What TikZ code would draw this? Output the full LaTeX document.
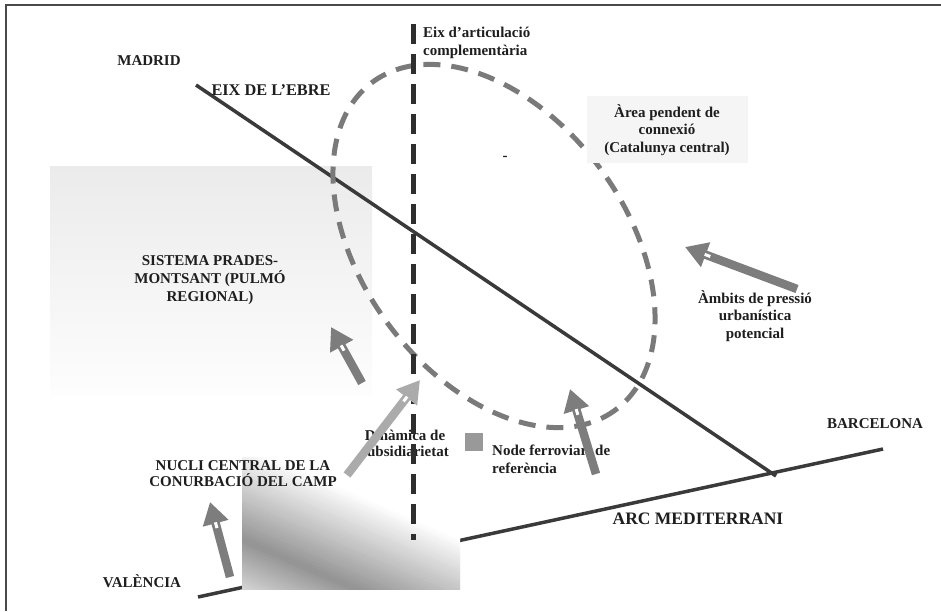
\documentclass[tikz,border=0pt]{standalone}
\usepackage{fontspec}
\setmainfont{Liberation Serif}
\usetikzlibrary{arrows.meta,calc}
\definecolor{lineC}{HTML}{3A3A3A}
\definecolor{dashC}{HTML}{2E2E2E}
\definecolor{ellC}{HTML}{7A7A7A}
\definecolor{arrC}{HTML}{7D7D7D}
\definecolor{arrL}{HTML}{ABABAB}
\definecolor{frameC}{HTML}{4A4A4A}
\definecolor{txtC}{HTML}{1E1E1E}
\definecolor{gradD}{HTML}{939393}
\definecolor{gradL}{HTML}{D2D2D2}
\definecolor{boxT}{HTML}{EBEBEB}
\definecolor{boxB}{HTML}{FDFDFD}
\definecolor{areaC}{HTML}{F5F5F5}
\definecolor{squareC}{HTML}{999999}
\begin{document}
\begin{tikzpicture}[x=1pt,y=-1pt,
  lab/.style={inner sep=0pt, text=txtC, font=\fontsize{15}{17.5}\selectfont\bfseries, align=center},
  biglab/.style={inner sep=0pt, text=txtC, font=\fontsize{16.3}{20}\selectfont\bfseries},
  axisline/.style={draw=lineC, line width=3.5pt},
  vdash/.style={draw=dashC, line width=4.5pt, dash pattern=on 20pt off 10pt},
  ring/.style={draw=ellC, line width=5pt, dash pattern=on 17pt off 11pt},
  fatarrow/.style={draw=arrC, line width=8.5pt, -{Triangle[length=22pt,width=25pt]}},
  lightarrow/.style={fatarrow, draw=arrL},
  notch/.style={draw=white, line width=3pt},
]
\useasboundingbox (0,0) rectangle (941,611);
\fill[white] (0,0) rectangle (941,611);
% frame
\draw[frameC, line width=1.6pt] (941,5) -- (6,5) -- (6,611);

% Sistema Prades-Montsant box
\shade[top color=boxT, bottom color=boxB] (50,166) rectangle (372,395);

% coordinates of axes
\coordinate (madE) at (196,85);
\coordinate (ebreEnd) at (776,476);
\coordinate (valE) at (198,597);
\coordinate (barE) at (883,449);
\coordinate (vtop) at (413.5,24);
\coordinate (vbot) at (413.5,540);

% Arc mediterrani
\draw[axisline] (valE) -- (barE);

% gradient box (nucli)
\begin{scope}
  \clip (242,457) rectangle (460,589);
  \fill[white] (242,457) rectangle (460,589);
  \begin{scope}[rotate around={-23.6:(351,523)}]
    \foreach \p in {-132,-129,...,132} {
      \pgfmathtruncatemacro\pa{max(0,min(100,(30-\p)/88*100))}
      \pgfmathtruncatemacro\pb{max(0,min(100,(-58-\p)/44*100))}
      \fill[gradL!\pb!gradD!\pa!white] (180,{523-\p-2}) rectangle (520,{523-\p+2});
    }
  \end{scope}
\end{scope}

% Eix de l'Ebre
\draw[axisline] (madE) -- (ebreEnd);

% dashed ellipse
\draw[ring, rotate around={-53.4:(494,246)}] (494,246) ellipse [x radius=204, y radius=131.5];

% Area pendent box
\fill[areaC] (587,96) rectangle (748,163);

% texts (multi-line nodes: base = baseline of last line)
\node[lab, anchor=base] (madrid) at (149,65) {MADRID};
\node[biglab, anchor=base] (ebre) at (271,95) {EIX DE L’EBRE};
\node[lab, anchor=base west, align=left] (eixart) at (423,55) {Eix d’articulació\\complementària};
\node[lab, anchor=base] (area) at (667,152) {Àrea pendent de\\connexió\\(Catalunya central)};
\node[lab, anchor=base] (dash) at (505,160) {-};
\node[lab, anchor=base, font=\fontsize{15}{18}\selectfont\bfseries] (sistema) at (210,301) {SISTEMA PRADES-\\MONTSANT (PULMÓ\\REGIONAL)};
\node[lab, anchor=base] (ambits) at (755,338) {Àmbits de pressió\\urbanística\\potencial};
\node[lab, anchor=base] (barcelona) at (875,428) {BARCELONA};
\node[lab, anchor=base, font=\fontsize{15}{16}\selectfont\bfseries] (dinamica) at (405,456) {Dinàmica de\\subsidiarietat};
\node[lab, anchor=base west, align=left] (nodef) at (492,473) {Node ferroviari de\\referència};
\node[lab, anchor=base, font=\fontsize{15}{16}\selectfont\bfseries] (nucli) at (243,486) {NUCLI CENTRAL DE LA\\CONURBACIÓ DEL CAMP};
\node[biglab, anchor=base, font=\fontsize{17.5}{20}\selectfont\bfseries] (arc) at (698,524) {ARC MEDITERRANI};
\node[lab, anchor=base] (valencia) at (142,587) {VALÈNCIA};

% vertical dashed axis
\draw[vdash] (vtop) -- (vbot);

% node ferroviari square
\fill[squareC] (465,433) rectangle (483,451);

% arrows
\coordinate (ambT) at (797,289);  \coordinate (ambH) at (685,247);
\coordinate (nodT) at (596,474);  \coordinate (nodH) at (570,389);
\coordinate (sisT) at (362,383);  \coordinate (sisH) at (331,327);
\coordinate (nucT) at (230,577);  \coordinate (nucH) at (210,502);
\coordinate (dinT) at (347,475);  \coordinate (dinH) at (420,380);
\foreach \t/\h in {ambT/ambH, nodT/nodH, sisT/sisH, nucT/nucH} {
  \draw[fatarrow] (\t) -- (\h);
  \draw[notch] ($(\h)!21pt!(\t)$) -- ($(\h)!27pt!(\t)$);
}
\draw[lightarrow] (dinT) -- (dinH);
\draw[notch] ($(dinH)!21pt!(dinT)$) -- ($(dinH)!27pt!(dinT)$);
\end{tikzpicture}
\end{document}
